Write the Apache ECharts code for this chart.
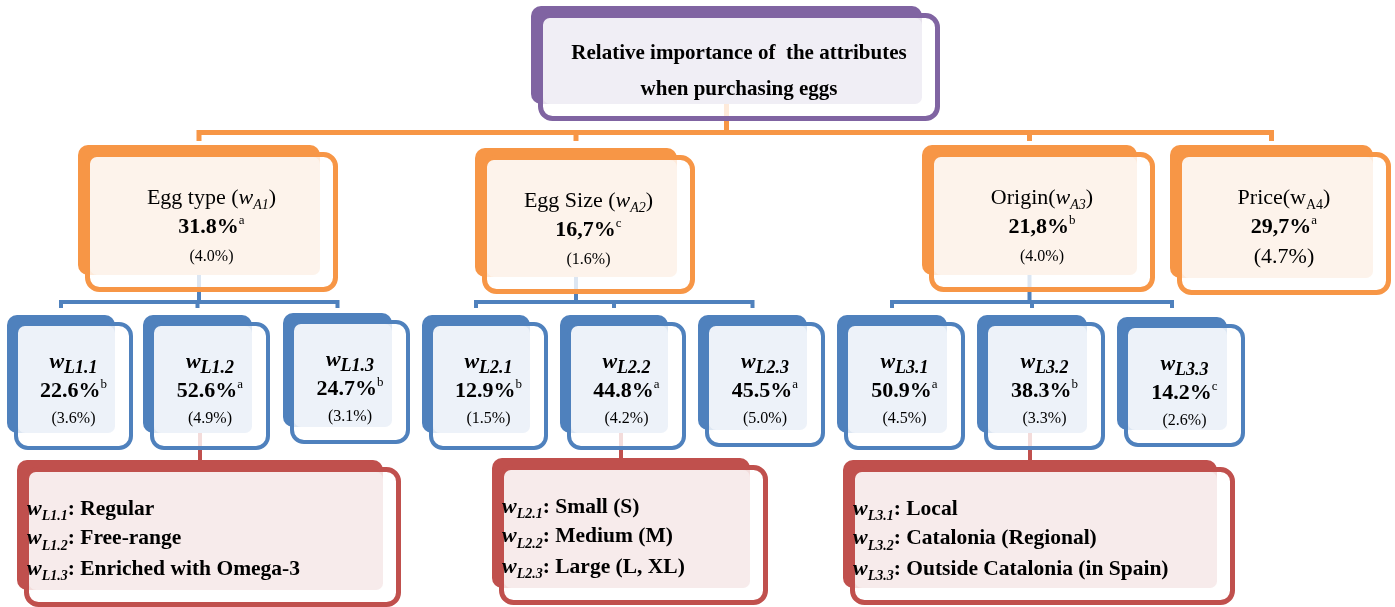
<!DOCTYPE html>
<html>
<head>
<meta charset="utf-8">
<script src="https://cdn.jsdelivr.net/npm/echarts@6/dist/echarts.min.js"></script>
<style>
  html, body { margin: 0; padding: 0; background: #fff; }
  #chart { width: 1395px; height: 607px; }
</style>
</head>
<body>
<div id="chart"></div>
<script>
// ---- Content -------------------------------------------------------------
const goalLines = ['Relative importance of  the attributes', 'when purchasing eggs'];

// Attributes (first level)
const attrNames   = ['Egg type', 'Egg Size', 'Origin', 'Price'];
const attrCodes   = ['A1', 'A2', 'A3', 'A4'];
const attrWeights = ['31.8%', '16,7%', '21,8%', '29,7%'];
const attrGroups  = ['a', 'c', 'b', 'a'];
const attrErrors  = ['(4.0%)', '(1.6%)', '(4.0%)', '(4.7%)'];

// Attribute levels (second level)
const levelCodes   = ['L1.1', 'L1.2', 'L1.3', 'L2.1', 'L2.2', 'L2.3', 'L3.1', 'L3.2', 'L3.3'];
const levelWeights = ['22.6%', '52.6%', '24.7%', '12.9%', '44.8%', '45.5%', '50.9%', '38.3%', '14.2%'];
const levelGroups  = ['b', 'a', 'b', 'b', 'a', 'a', 'a', 'b', 'c'];
const levelErrors  = ['(3.6%)', '(4.9%)', '(3.1%)', '(1.5%)', '(4.2%)', '(5.0%)', '(4.5%)', '(3.3%)', '(2.6%)'];
const levelParent  = [0, 0, 0, 1, 1, 1, 2, 2, 2];
const levelNames   = ['Regular', 'Free-range', 'Enriched with Omega-3',
                      'Small (S)', 'Medium (M)', 'Large (L, XL)',
                      'Local', 'Catalonia (Regional)', 'Outside Catalonia (in Spain)'];

// ---- Layout (units of the 1395 x 607 layout grid) ------------------------
// Back panel of each node: [left, top, right, bottom]
const goalBox    = [531, 6, 922, 104];
const attrBoxes  = [[78, 145, 320, 275], [475, 148, 677, 277], [922, 145, 1137, 275], [1170, 145, 1373, 278]];
const levelBoxes = [[7, 315, 115, 433], [143, 315, 252, 433], [283, 313, 392, 427],
                    [422, 315, 530, 433], [560, 315, 668, 433], [698, 315, 807, 430],
                    [837, 315, 947, 433], [977, 315, 1087, 433], [1117, 317, 1227, 430]];
const noteBoxes  = [[17, 460, 383, 590], [492, 458, 750, 588], [843, 460, 1217, 588]];

// Heading style per attribute: gap before the bracket and whether the w is italic
const attrGap      = [' ', ' ', '', ''];
const attrItalicW  = [true, true, true, false];
const attrErrStyle = ['err', 'err', 'err', 'errL'];

const palettes = {
  goal:  { edge: '#8064a2', tint: '#f0eef5', width: 5 },
  attr:  { edge: '#f79646', tint: '#fdf3eb', width: 5 },
  level: { edge: '#4f81bd', tint: '#edf2f9', width: 4 },
  note:  { edge: '#c0504d', tint: '#f7ebeb', width: 5 }
};

const SERIF = "'Liberation Serif', 'Times New Roman', serif";
const base = { fontFamily: SERIF, color: '#000' };
const rich = {
  title: { ...base, fontSize: 21, fontWeight: 'bold' },
  txt:   { ...base, fontSize: 22 },
  txtI:  { ...base, fontSize: 22, fontStyle: 'italic' },
  subI:  { ...base, fontSize: 14, fontStyle: 'italic', lineHeight: 12, padding: [15, 0, 0, 0] },
  sub:   { ...base, fontSize: 14, lineHeight: 12, padding: [15, 0, 0, 0] },
  pct:   { ...base, fontSize: 22, fontWeight: 'bold' },
  sup:   { ...base, fontSize: 13, lineHeight: 10, padding: [0, 0, 12, 0] },
  err:   { ...base, fontSize: 16 },
  errL:  { ...base, fontSize: 22 },
  wB:    { ...base, fontSize: 22, fontWeight: 'bold', fontStyle: 'italic' },
  subB:  { ...base, fontSize: 18, fontWeight: 'bold', fontStyle: 'italic', lineHeight: 12, padding: [12, 0, 0, 0] },
  subN:  { ...base, fontSize: 14, fontWeight: 'bold', fontStyle: 'italic', lineHeight: 12, padding: [15, 0, 0, 0] },
  note:  { ...base, fontSize: 21.5, fontWeight: 'bold' }
};

// ---- Nodes ---------------------------------------------------------------
const panels = [];
panels.push({
  kind: 'goal', box: goalBox, align: 'center',
  lines: goalLines.map(s => '{title|' + s + '}'), offsets: [48, 84]
});
attrNames.forEach((name, i) => {
  const head = attrItalicW[i]
    ? `{txt|${name}${attrGap[i]}(}{txtI|w}{subI|${attrCodes[i]}}{txt|)}`
    : `{txt|${name}${attrGap[i]}(w}{sub|${attrCodes[i]}}{txt|)}`;
  panels.push({
    kind: 'attr', box: attrBoxes[i], align: 'center',
    lines: [head, `{pct|${attrWeights[i]}}{sup|${attrGroups[i]}}`, `{${attrErrStyle[i]}|${attrErrors[i]}}`],
    offsets: [53, 82, 112]
  });
});
levelCodes.forEach((code, j) => {
  panels.push({
    kind: 'level', box: levelBoxes[j], align: 'center',
    lines: [`{wB|w}{subB|${code}}`, `{pct|${levelWeights[j]}}{sup|${levelGroups[j]}}`, `{err|${levelErrors[j]}}`],
    offsets: [47, 76, 104]
  });
});
noteBoxes.forEach((box, a) => {
  const idx = levelParent.map((p, j) => p === a ? j : -1).filter(j => j >= 0);
  panels.push({
    kind: 'note', box, align: 'left',
    lines: idx.map(j => `{wB|w}{subN|${levelCodes[j]}}{note|: ${levelNames[j]}}`),
    offsets: [49, 78.5, 109]
  });
});

// ---- Connectors ----------------------------------------------------------
const cx = b => (b[0] + b[2]) / 2;
const links = [];
links.push({ color: palettes.attr.edge, width: 5, parent: goalBox, children: attrBoxes, bar: 132.5, tick: 141 });
[0, 1, 2].forEach(a => links.push({
  color: palettes.level.edge, width: 4, parent: attrBoxes[a],
  children: levelBoxes.filter((_, j) => levelParent[j] === a), bar: 302, tick: 308
}));
noteBoxes.forEach((nb, a) => {
  const mid = levelBoxes[levelParent.indexOf(a) + 1];
  links.push({ color: palettes.note.edge, width: 4, stub: [cx(nb), mid[3], nb[1] + 2] });
});

function renderLink(params, api) {
  const L = links[params.dataIndex];
  const c = (x, y) => api.coord([x, y]);
  const style = { stroke: L.color, lineWidth: L.width, fill: null, lineJoin: 'miter', lineCap: 'butt' };
  if (L.stub) {
    return { type: 'polyline', shape: { points: [c(L.stub[0], L.stub[1]), c(L.stub[0], L.stub[2])] }, style };
  }
  const xs = L.children.map(cx);
  const first = xs[0], last = xs[xs.length - 1];
  const kids = [
    { type: 'polyline', shape: { points: [c(first, L.tick), c(first, L.bar), c(last, L.bar), c(last, L.tick)] }, style },
    { type: 'polyline', shape: { points: [c(cx(L.parent), L.parent[3]), c(cx(L.parent), L.bar)] }, style }
  ];
  xs.slice(1, -1).forEach(x => kids.push({ type: 'polyline', shape: { points: [c(x, L.bar), c(x, L.tick)] }, style }));
  return { type: 'group', children: kids };
}

function renderPanel(params, api) {
  const P = panels[params.dataIndex];
  const pal = palettes[P.kind];
  const [x0, y0, x1, y1] = P.box;
  const sw = pal.width;
  const c = (x, y) => api.coord([x, y]);
  const rect = (ax, ay, bx, by, r, style) => {
    const a = c(ax, ay), b = c(bx, by);
    return { type: 'rect', shape: { x: a[0], y: a[1], width: b[0] - a[0], height: b[1] - a[1], r }, style };
  };
  const fx0 = x0 + 7, fy0 = y0 + 7, fx1 = x1 + 18, fy1 = y1 + 17;
  const kids = [
    rect(x0, y0, x1, y1, 10, { fill: pal.edge }),
    rect(fx0 + sw / 2, fy0 + sw / 2, fx1 - sw / 2, fy1 - sw / 2, 12,
         { fill: 'rgba(255,255,255,0.8)', stroke: pal.edge, lineWidth: sw }),
    rect(fx0 + sw, fy0 + sw, x1, y1, 7, { fill: pal.tint })
  ];
  const tx = P.align === 'center' ? (fx0 + fx1) / 2 : x0 + 10;
  P.lines.forEach((line, k) => {
    const p = c(tx, y0 + P.offsets[k]);
    kids.push({
      type: 'text',
      style: {
        text: line, x: p[0], y: p[1], rich,
        align: P.align, verticalAlign: 'middle',
        textAlign: P.align, textVerticalAlign: 'middle'
      }
    });
  });
  return { type: 'group', children: kids };
}

const chart = echarts.init(document.getElementById('chart'), null, { renderer: 'canvas' });
chart.setOption({
  animation: false,
  grid: { left: 0, right: 0, top: 0, bottom: 0 },
  xAxis: { type: 'value', min: 0, max: 1395, show: false },
  yAxis: { type: 'value', min: 0, max: 607, inverse: true, show: false },
  series: [
    { type: 'custom', z: 1, silent: true, clip: false, data: links.map((_, i) => [i, 0]), renderItem: renderLink },
    { type: 'custom', z: 2, silent: true, clip: false, data: panels.map((_, i) => [i, 0]), renderItem: renderPanel }
  ]
});
</script>
</body>
</html>
